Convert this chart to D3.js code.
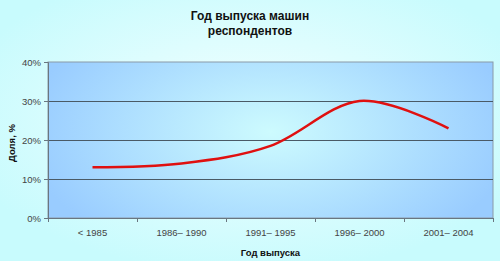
<!DOCTYPE html>
<html>
<head>
<meta charset="utf-8">
<script src="https://cdn.jsdelivr.net/npm/d3@7"></script>
<style>
	body { margin: 0; }
	svg { display: block; font-family: "Liberation Sans", Arial, sans-serif; }
</style>
</head>
<body>
<div id="chart"></div>
<script>
const titleLines = ["Год выпуска машин", "респондентов"];
const categories = ["< 1985", "1986– 1990", "1991– 1995", "1996– 2000", "2001– 2004"];
const shares = [13, 14, 18.5, 30, 23];
const yTicks = [0, 10, 20, 30, 40];
const xTitle = "Год выпуска";
const yTitle = "Доля, %";

const W = 500, H = 261;
const margin = { top: 62, right: 7, bottom: 43, left: 48 };
const width = W - margin.left - margin.right;
const height = H - margin.top - margin.bottom;

const svg = d3.select("#chart").append("svg")
	.attr("width", W)
	.attr("height", H);

const defs = svg.append("defs");
const outerGrad = defs.append("radialGradient")
	.attr("id", "outerGrad")
	.attr("cx", "50%").attr("cy", "45%").attr("r", "60%");
outerGrad.append("stop").attr("offset", "0%").attr("stop-color", "#f4ffff");
outerGrad.append("stop").attr("offset", "100%").attr("stop-color", "#c8fbfd");

const plotGrad = defs.append("radialGradient")
	.attr("id", "plotGrad")
	.attr("cx", "50%").attr("cy", "45%").attr("r", "55%")
	.attr("gradientTransform", "translate(0.5,0.45) scale(1,1.6) translate(-0.5,-0.45)");
plotGrad.append("stop").attr("offset", "0%").attr("stop-color", "#cdfbfe");
plotGrad.append("stop").attr("offset", "100%").attr("stop-color", "#99ccff");

svg.append("rect")
	.attr("width", W).attr("height", H)
	.attr("fill", "url(#outerGrad)");

// Title
svg.append("text")
	.attr("x", W / 2)
	.attr("text-anchor", "middle")
	.attr("font-weight", "bold")
	.attr("font-size", 12)
	.attr("fill", "#111")
	.selectAll("tspan")
	.data(titleLines)
	.enter()
	.append("tspan")
	.attr("x", W / 2)
	.attr("y", (d, i) => 20 + i * 15)
	.text(d => d);

const g = svg.append("g")
	.attr("transform", "translate(" + margin.left + "," + margin.top + ")");

const x = d3.scaleBand()
	.domain(categories)
	.range([0, width]);
const y = d3.scaleLinear()
	.domain([0, 40])
	.range([height, 0]);

g.append("rect")
	.attr("width", width)
	.attr("height", height)
	.attr("fill", "url(#plotGrad)")
	.attr("stroke", "#8a9aa8")
	.attr("stroke-width", 1);

// gridlines
g.selectAll(".grid")
	.data(yTicks.filter(t => t > 0 && t < 40))
	.enter()
	.append("line")
	.classed("grid", true)
	.attr("x1", 0)
	.attr("x2", width)
	.attr("y1", d => Math.round(y(d)) + 0.5)
	.attr("y2", d => Math.round(y(d)) + 0.5)
	.attr("stroke", "#4a5a66")
	.attr("stroke-width", 1);

// Y axis
const yAxis = d3.axisLeft(y)
	.tickValues(yTicks)
	.tickFormat(d => d + "%")
	.tickSize(4)
	.tickPadding(3);
const yAxisG = g.append("g").call(yAxis);
yAxisG.select(".domain").attr("stroke", "#6a7680");
yAxisG.selectAll("line").attr("stroke", "#6a7680");
yAxisG.selectAll("text")
	.attr("font-size", 9.5)
	.attr("fill", "#444")
	.attr("font-family", "Liberation Sans, Arial, sans-serif");

// X axis
const xAxis = d3.axisBottom(x)
	.tickSize(0)
	.tickPadding(11);
const xAxisG = g.append("g")
	.attr("transform", "translate(0," + height + ")")
	.call(xAxis);
xAxisG.select(".domain").attr("stroke", "#6a7680");
xAxisG.selectAll("text")
	.attr("font-size", 9.5)
	.attr("fill", "#444")
	.attr("font-family", "Liberation Sans, Arial, sans-serif");
// category separators
xAxisG.selectAll(".sep")
	.data(categories.concat([null]))
	.enter()
	.append("line")
	.classed("sep", true)
	.attr("x1", (d, i) => Math.round(i * x.bandwidth()) + 0.5)
	.attr("x2", (d, i) => Math.round(i * x.bandwidth()) + 0.5)
	.attr("y1", 0)
	.attr("y2", 4)
	.attr("stroke", "#6a7680");

// Axis titles
svg.append("text")
	.attr("x", margin.left + width / 2)
	.attr("y", 256)
	.attr("text-anchor", "middle")
	.attr("font-weight", "bold")
	.attr("font-size", 9.5)
	.attr("fill", "#111")
	.text(xTitle);
svg.append("text")
	.attr("transform", "translate(15," + (margin.top + height / 2 + 3) + ") rotate(-90)")
	.attr("text-anchor", "middle")
	.attr("font-weight", "bold")
	.attr("font-size", 9.5)
	.attr("fill", "#111")
	.text(yTitle);

// Line
const line = d3.line()
	.x((d, i) => x(categories[i]) + x.bandwidth() / 2)
	.y(d => y(d))
	.curve(d3.curveCardinal.tension(0));
g.append("path")
	.datum(shares)
	.attr("fill", "none")
	.attr("stroke", "#e01010")
	.attr("stroke-width", 2.5)
	.attr("d", line);
</script>
</body>
</html>
